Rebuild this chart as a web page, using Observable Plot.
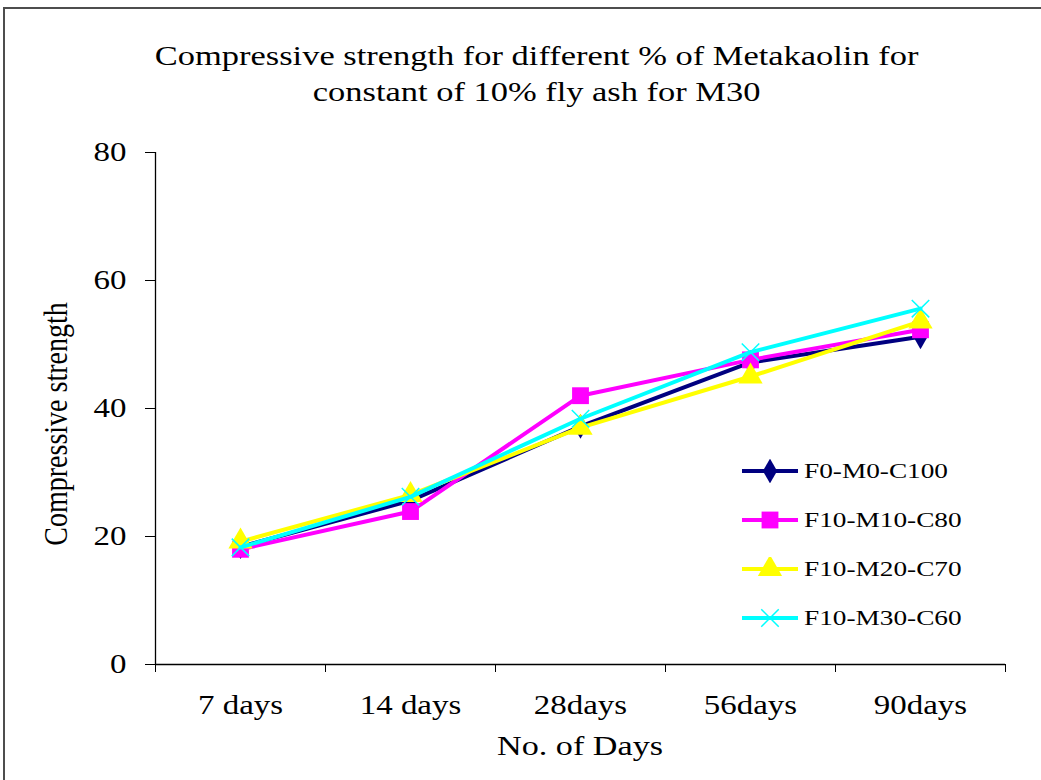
<!DOCTYPE html>
<html>
<head>
<meta charset="utf-8">
<script src="https://cdn.jsdelivr.net/npm/d3@7"></script>
<script src="https://cdn.jsdelivr.net/npm/@observablehq/plot@0.6"></script>
<style>
  html, body { margin: 0; padding: 0; background: #fff; }
  #wrap { position: relative; width: 1041px; height: 780px; overflow: hidden; font-family: "Liberation Serif", "Times New Roman", serif; color: #000; }
  #border { position: absolute; left: 3px; top: 7px; width: 1060px; height: 800px; border: 2px solid #4d4d4d; box-sizing: border-box; }
  #title { position: absolute; left: 0; width: 1073px; top: 38px; text-align: center; font-size: 28px; line-height: 36px; transform: scaleX(1.23); transform-origin: 536px 0; }
  #chart { position: absolute; left: 0; top: 0; }
  #ylabel { position: absolute; left: 56px; top: 424px; width: 0; height: 0; }
  #ylabel span { position: absolute; white-space: nowrap; font-size: 28px; line-height: 28px; transform: translate(-50%, -50%) rotate(-90deg) scale(1, 1.2); left: 0; top: 0; }
  #xlabel { position: absolute; left: 580px; top: 746px; width: 0; height: 0; }
  #xlabel span { position: absolute; white-space: nowrap; font-size: 28px; line-height: 28px; transform: translate(-50%, -50%) scaleX(1.22); left: 0; top: 0; }
  #legend { position: absolute; left: 740px; top: 446px; font-size: 22px; }
  .row { display: flex; align-items: center; height: 49px; }
  .row svg { margin-right: 4px; }
  .row span { display: inline-block; transform: scaleX(1.24); transform-origin: 0 50%; }
</style>
</head>
<body>
<div id="wrap">
  <div id="border"></div>
  <div id="chart"></div>
  <div id="title">Compressive strength for different % of Metakaolin for<br>constant of 10% fly ash for M30</div>
  <div id="ylabel"><span>Compressive strength</span></div>
  <div id="xlabel"><span>No. of Days</span></div>
  <div id="legend"></div>
</div>
<script>
const categories = ["7 days", "14 days", "28days", "56days", "90days"];
const seriesNames = ["F0-M0-C100", "F10-M10-C80", "F10-M20-C70", "F10-M30-C60"];
const f0m0c100   = [18.4, 25.6, 37.2, 47.2, 51.2];
const f10m10c80  = [18.0, 23.9, 42.0, 47.6, 52.3];
const f10m20c70  = [19.2, 26.5, 37.0, 45.0, 53.6];
const f10m30c60  = [18.3, 26.2, 38.4, 48.8, 55.6];
const yTicks = [0, 20, 40, 60, 80];

const seriesValues = [f0m0c100, f10m10c80, f10m20c70, f10m30c60];
const colors = ["#000080", "#ff00ff", "#ffff00", "#00ffff"];
const symbols = ["diamond", "square", "triangle", "times"];
const radii = [7.5, 9.5, 9, 8];

const xDomain = [-0.5, categories.length - 0.5];
const boundaryTicks = d3.range(categories.length + 1).map(k => k - 0.5);

const marks = [
  Plot.ruleY([0], {stroke: "#000", strokeWidth: 1.3}),
  Plot.ruleX([xDomain[0]], {stroke: "#000", strokeWidth: 1.3}),
  Plot.axisY({ticks: yTicks, tickSize: 10, tickPadding: 19, fontSize: 27, label: null, stroke: "#000"}),
  Plot.axisX({ticks: boundaryTicks, tickFormat: () => "", tickSize: 8, label: null}),
  Plot.axisX({ticks: d3.range(categories.length), tickFormat: i => categories[i], tickSize: 0, tickPadding: 30, fontSize: 27, label: null})
];

seriesNames.forEach((name, s) => {
  const rows = seriesValues[s].map((v, i) => ({i, v, name}));
  marks.push(Plot.line(rows, {x: "i", y: "v", stroke: colors[s], strokeWidth: 4}));
  const isStroke = symbols[s] === "times";
  marks.push(Plot.dot(rows, {
    x: "i", y: "v", symbol: () => symbols[s], r: radii[s],
    fill: isStroke ? "none" : colors[s],
    stroke: isStroke ? colors[s] : "none",
    strokeWidth: isStroke ? 1.5 : 0
  }));
});

const chart = Plot.plot({
  width: 1041,
  height: 780,
  marginLeft: 155,
  marginRight: 36,
  marginTop: 152,
  marginBottom: 116,
  style: {fontFamily: '"Liberation Serif", "Times New Roman", serif', fontSize: "27px", color: "#000", background: "transparent"},
  x: {type: "linear", domain: xDomain},
  y: {domain: [yTicks[0], yTicks[yTicks.length - 1]]},
  symbol: {type: "identity"},
  marks
});
// widen the tick-label glyphs horizontally like the reference
d3.select(chart).selectAll("text").each(function () {
  const el = d3.select(this);
  const tr = el.attr("transform");
  if (tr) {
    el.attr("transform", tr + " scale(1.22,1)");
  } else {
    const x = +el.attr("x") || 0, y = +el.attr("y") || 0;
    el.attr("x", null).attr("y", null).attr("transform", `translate(${x},${y}) scale(1.22,1)`);
  }
});
document.getElementById("chart").appendChild(chart);

// legend
const legend = document.getElementById("legend");
const symMap = {diamond: d3.symbolDiamond, square: d3.symbolSquare, triangle: d3.symbolTriangle, times: d3.symbolTimes};
seriesNames.forEach((name, s) => {
  const row = document.createElement("div");
  row.className = "row";
  const svg = d3.create("svg").attr("width", 60).attr("height", 24);
  svg.append("line").attr("x1", 2).attr("x2", 58).attr("y1", 12).attr("y2", 12)
    .attr("stroke", colors[s]).attr("stroke-width", 4);
  const isStroke = symbols[s] === "times";
  svg.append("path")
    .attr("d", d3.symbol(symMap[symbols[s]], Math.PI * radii[s] * radii[s])())
    .attr("transform", "translate(30,12)")
    .attr("fill", isStroke ? "none" : colors[s])
    .attr("stroke", isStroke ? colors[s] : "none")
    .attr("stroke-width", 1.5);
  row.appendChild(svg.node());
  const t = document.createElement("span");
  t.textContent = name;
  row.appendChild(t);
  legend.appendChild(row);
});
</script>
</body>
</html>
